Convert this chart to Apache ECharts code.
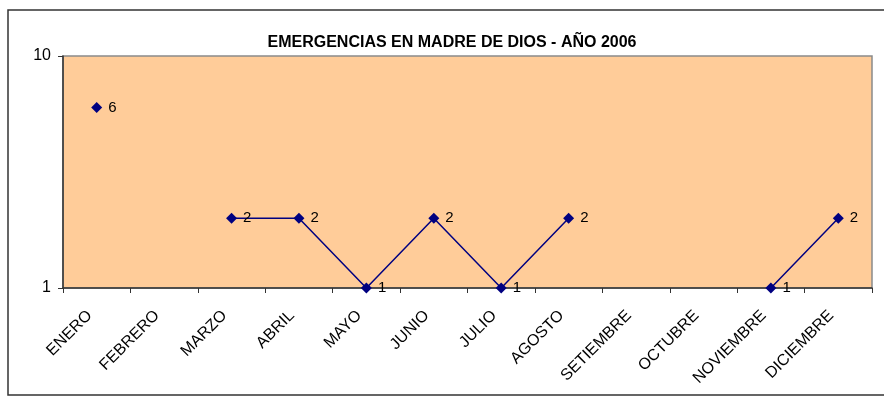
<!DOCTYPE html>
<html>
<head>
<meta charset="utf-8">
<script src="https://cdn.jsdelivr.net/npm/echarts@6/dist/echarts.min.js"></script>
<style>
  html, body { margin: 0; padding: 0; background: #ffffff; }
  #chart { width: 884px; height: 397px; }
</style>
</head>
<body>
<div id="chart"></div>
<script>
// Monthly emergency counts, Madre de Dios, 2006 (null = no record)
const months = ['ENERO', 'FEBRERO', 'MARZO', 'ABRIL', 'MAYO', 'JUNIO', 'JULIO',
                'AGOSTO', 'SETIEMBRE', 'OCTUBRE', 'NOVIEMBRE', 'DICIEMBRE'];
const emergencias = [6, null, 2, 2, 1, 2, 1, 2, null, null, 1, 2];
const yTicks = [1, 10];
const titulo = 'EMERGENCIAS EN MADRE DE DIOS - AÑO 2006';

const chart = echarts.init(document.getElementById('chart'), null, { renderer: 'canvas' });

chart.setOption({
  animation: false,
  textStyle: { fontFamily: 'Liberation Sans, Arial, sans-serif' },
  title: {
    text: titulo,
    left: 447,
    textAlign: 'center',
    top: 30,
    textStyle: { fontSize: 16, fontWeight: 'bold', color: '#000' }
  },
  graphic: [{
    type: 'rect',
    silent: true,
    z: -10,
    shape: { x: 8, y: 10, width: 900, height: 385 },
    style: { fill: 'none', stroke: '#333', lineWidth: 1.5 }
  }],
  grid: {
    left: 63, right: 12, top: 56, bottom: 109,
    show: true,
    backgroundColor: '#FFCC99',
    borderColor: '#8a8a8a',
    borderWidth: 1.5
  },
  xAxis: {
    type: 'category',
    data: months,
    boundaryGap: true,
    axisLine: { show: true, lineStyle: { color: '#333', width: 1.5 } },
    axisTick: { show: true, inside: false, length: 5, alignWithLabel: false, lineStyle: { color: '#333' } },
    axisLabel: {
      interval: 0,
      rotate: 45,
      margin: 18,
      padding: [0, 10, 0, 0],
      fontSize: 16,
      color: '#000'
    },
    splitLine: { show: false }
  },
  yAxis: {
    type: 'log',
    logBase: 10,
    min: yTicks[0],
    max: yTicks[yTicks.length - 1],
    axisLine: { show: true, lineStyle: { color: '#333', width: 1.5 } },
    axisTick: { show: true, length: 5, lineStyle: { color: '#333' } },
    axisLabel: { fontSize: 16, color: '#000', margin: 12 },
    splitLine: { show: false }
  },
  series: [{
    type: 'line',
    data: emergencias,
    connectNulls: false,
    symbol: 'diamond',
    symbolSize: 11,
    showAllSymbol: true,
    itemStyle: { color: '#000080' },
    lineStyle: { color: '#000080', width: 1.5 },
    label: {
      show: true,
      position: 'right',
      distance: 6,
      fontSize: 15,
      color: '#000'
    }
  }]
});
</script>
</body>
</html>
